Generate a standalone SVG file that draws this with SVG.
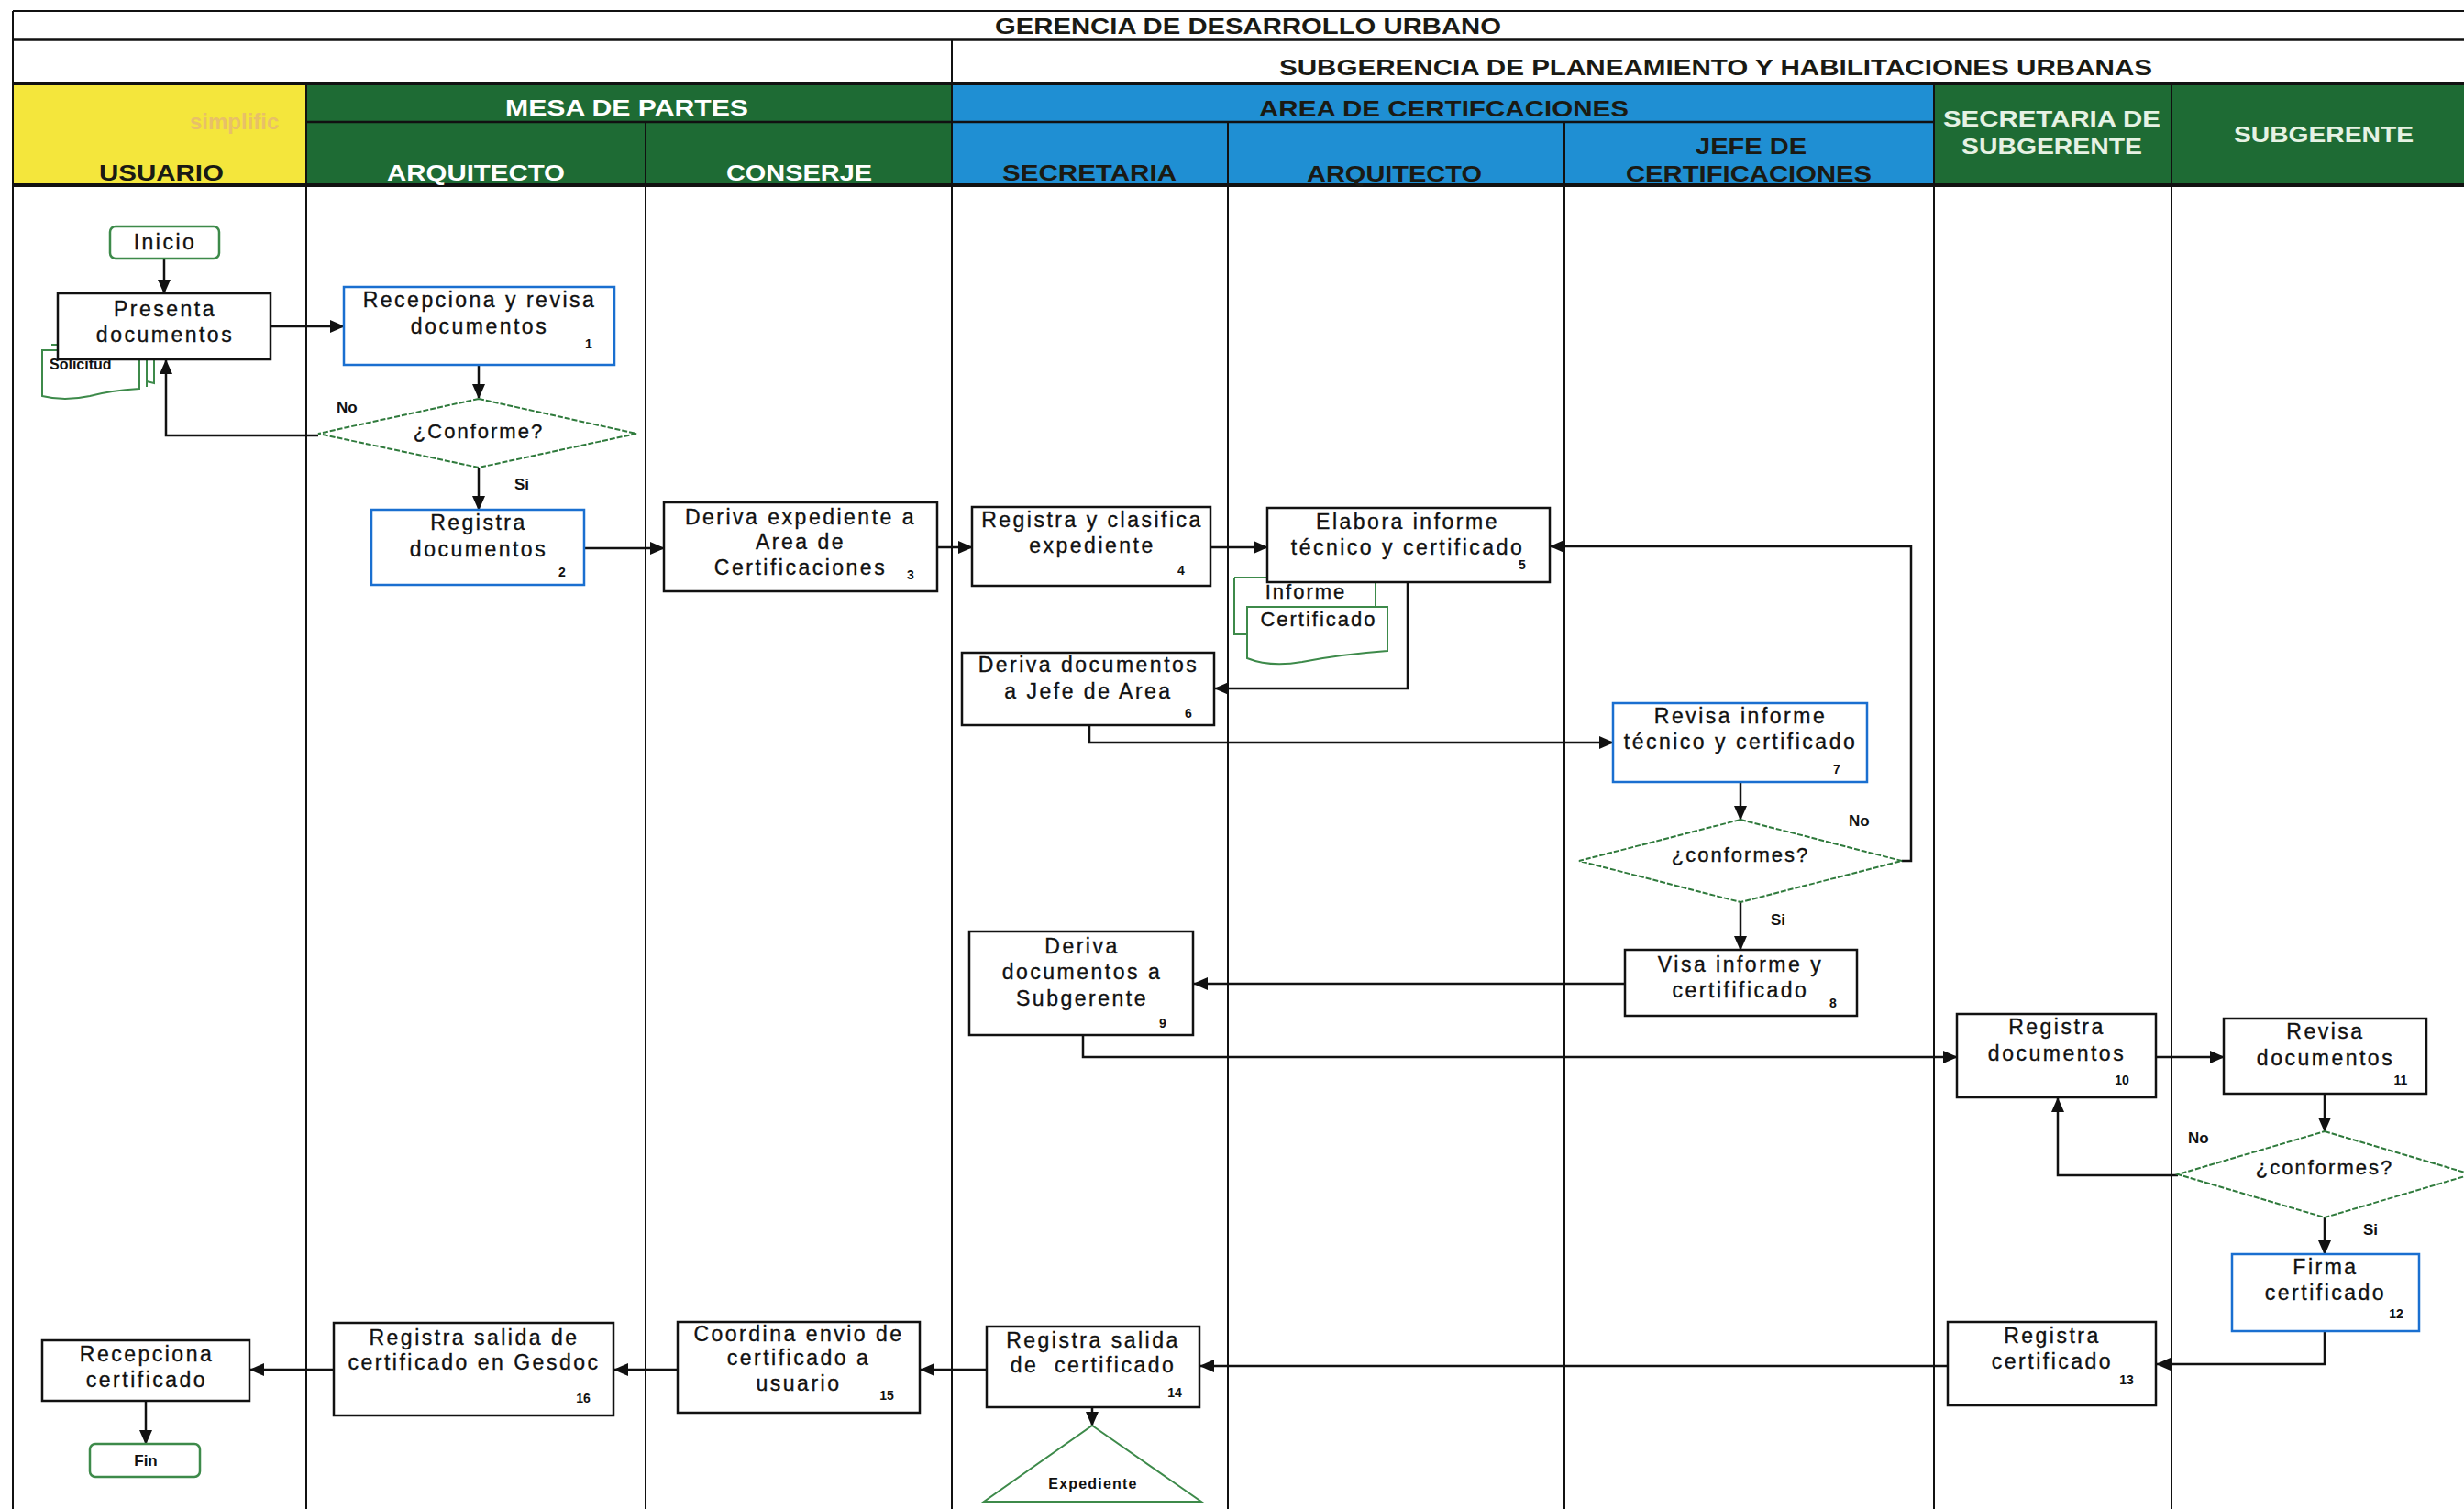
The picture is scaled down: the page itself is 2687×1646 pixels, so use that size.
<svg xmlns="http://www.w3.org/2000/svg" width="2687" height="1646" viewBox="0 0 2687 1646">
  <defs>
    <style>
      .t { font-family: "Liberation Sans", Arial, sans-serif; font-size: 23px; letter-spacing: 2.5px; fill: #111; stroke: #111; stroke-width: 0.35; text-anchor: middle; }
      .dt { font-family: "Liberation Sans", Arial, sans-serif; font-size: 22px; letter-spacing: 2px; fill: #111; stroke: #111; stroke-width: 0.35; text-anchor: middle; }
      .num { font-family: "Liberation Sans", Arial, sans-serif; font-size: 14px; font-weight: bold; fill: #111; text-anchor: middle; }
      .lbl { font-family: "Liberation Sans", Arial, sans-serif; font-size: 17px; font-weight: bold; fill: #111; }
      .hd { font-family: "Liberation Sans", Arial, sans-serif; font-size: 24px; font-weight: bold; }
      .dark { fill: #1a1a14; }
      .light { fill: #ffffff; }
      .pale { fill: #e6f2e4; }
      .box { fill: #fff; stroke: #111; stroke-width: 2.5; }
      .bbox { fill: #fff; stroke: #1a6fd0; stroke-width: 2.5; }
      .dia { fill: #fff; stroke: #2f7a3c; stroke-width: 2; stroke-dasharray: 6 2; }
      .term { fill: #fff; stroke: #3d8a4a; stroke-width: 2.5; }
      .doc { fill: #fff; stroke: #3d8a4a; stroke-width: 2; }
      .lane { stroke: #111; stroke-width: 2; fill: none; }
      .conn path { fill: none; stroke: #111; stroke-width: 2.5; marker-end: url(#arr); }
    </style>
    <marker id="arr" markerUnits="userSpaceOnUse" markerWidth="16" markerHeight="14" refX="15" refY="7" orient="auto">
      <path d="M0,0 L16,7 L0,14 z" fill="#111"/>
    </marker>
  </defs>

  <rect width="2687" height="1646" fill="#fff"/>

  <!-- header bands -->
  <g id="header">
    <rect x="14" y="91" width="320" height="111" fill="#f4e63c"/>
    <rect x="334" y="91" width="704" height="111" fill="#1e6b34"/>
    <rect x="1038" y="91" width="1071" height="111" fill="#1f8fd3"/>
    <rect x="2109" y="91" width="578" height="111" fill="#1e6b34"/>

    <line x1="14" y1="12" x2="2687" y2="12" stroke="#111" stroke-width="2"/>
    <line x1="14" y1="43" x2="2687" y2="43" stroke="#111" stroke-width="3.5"/>
    <line x1="1038" y1="43" x2="1038" y2="91" stroke="#111" stroke-width="2"/>
    <line x1="14" y1="91" x2="2687" y2="91" stroke="#111" stroke-width="4"/>
    <line x1="334" y1="133" x2="2109" y2="133" stroke="#111" stroke-width="2.5"/>
    <line x1="14" y1="202" x2="2687" y2="202" stroke="#111" stroke-width="4"/>
    <g class="lane">
      <line x1="334" y1="91" x2="334" y2="202"/>
      <line x1="704" y1="133" x2="704" y2="202"/>
      <line x1="1038" y1="91" x2="1038" y2="202"/>
      <line x1="1339" y1="133" x2="1339" y2="202"/>
      <line x1="1706" y1="133" x2="1706" y2="202"/>
      <line x1="2109" y1="91" x2="2109" y2="202"/>
      <line x1="2368" y1="91" x2="2368" y2="202"/>
    </g>

    <text class="hd dark" x="1085" y="37" textLength="552" lengthAdjust="spacingAndGlyphs">GERENCIA DE DESARROLLO URBANO</text>
    <text class="hd dark" x="1395" y="82" textLength="952" lengthAdjust="spacingAndGlyphs">SUBGERENCIA DE PLANEAMIENTO Y HABILITACIONES URBANAS</text>

    <text class="hd" x="207" y="141" font-size="20" fill="#e8c068" font-weight="normal">simplific</text>
    <text class="hd dark" x="108" y="197" textLength="136" lengthAdjust="spacingAndGlyphs">USUARIO</text>
    <text class="hd light" x="551" y="126" font-size="22" textLength="265" lengthAdjust="spacingAndGlyphs">MESA DE PARTES</text>
    <text class="hd light" x="422" y="197" font-size="22" textLength="194" lengthAdjust="spacingAndGlyphs">ARQUITECTO</text>
    <text class="hd light" x="792" y="197" font-size="22" textLength="159" lengthAdjust="spacingAndGlyphs">CONSERJE</text>
    <text class="hd dark" x="1373" y="127" textLength="403" lengthAdjust="spacingAndGlyphs">AREA DE CERTIFCACIONES</text>
    <text class="hd dark" x="1093" y="197" textLength="190" lengthAdjust="spacingAndGlyphs">SECRETARIA</text>
    <text class="hd dark" x="1425" y="198" textLength="191" lengthAdjust="spacingAndGlyphs">ARQUITECTO</text>
    <text class="hd dark" x="1849" y="168" textLength="121" lengthAdjust="spacingAndGlyphs">JEFE DE</text>
    <text class="hd dark" x="1773" y="198" textLength="268" lengthAdjust="spacingAndGlyphs">CERTIFICACIONES</text>
    <text class="hd pale" x="2119" y="138" font-size="22" textLength="237" lengthAdjust="spacingAndGlyphs">SECRETARIA DE</text>
    <text class="hd pale" x="2139" y="168" font-size="22" textLength="197" lengthAdjust="spacingAndGlyphs">SUBGERENTE</text>
    <text class="hd pale" x="2436" y="155" font-size="22" textLength="196" lengthAdjust="spacingAndGlyphs">SUBGERENTE</text>
  </g>

  <!-- swimlane separators -->
  <g id="lanes" class="lane">
    <line x1="14" y1="12" x2="14" y2="1646"/>
    <line x1="334" y1="202" x2="334" y2="1646"/>
    <line x1="704" y1="202" x2="704" y2="1646"/>
    <line x1="1038" y1="202" x2="1038" y2="1646"/>
    <line x1="1339" y1="202" x2="1339" y2="1646"/>
    <line x1="1706" y1="202" x2="1706" y2="1646"/>
    <line x1="2109" y1="202" x2="2109" y2="1646"/>
    <line x1="2368" y1="202" x2="2368" y2="1646"/>
  </g>

  <!-- documents attached to activities -->
  <g id="doc-solicitud">
    <path class="doc" d="M62,370 H168 V418 Q164,417 160,416 M56,376 H160 V422"/>
    <path class="doc" d="M46,382 H152 V424 Q120,426 98,432 Q70,438 46,432 Z"/>
    <line x1="160" y1="376" x2="160" y2="418" stroke="#3d8a4a" stroke-width="2"/>
    <line x1="168" y1="370" x2="168" y2="413" stroke="#3d8a4a" stroke-width="2"/>
    <text x="54" y="403" font-family="'Liberation Sans', Arial, sans-serif" font-size="16" font-weight="bold" fill="#111">Solicitud</text>
  </g>

  <g id="doc-informe">
    <path class="doc" d="M1346,630 V692 H1360 M1346,630 H1500 V662"/>
    <text class="dt" x="1424" y="653">Informe</text>
  </g>
  <g id="doc-certificado">
    <path class="doc" d="M1360,662 H1513 V710 Q1460,714 1420,722 Q1385,728 1360,718 Z"/>
    <text class="dt" x="1438" y="683">Certificado</text>
  </g>

  <!-- connectors -->
  <g id="connectors" class="conn">
    <path d="M179,282 V320"/>
    <path d="M295,356 H375"/>
    <path d="M522,398 V434"/>
    <path d="M347,475 H181 V393"/>
    <path d="M522,510 V556"/>
    <path d="M637,598 H724"/>
    <path d="M1022,597 H1060"/>
    <path d="M1320,597 H1382"/>
    <path d="M1535,635 V751 H1325"/>
    <path d="M1188,791 V810 H1759"/>
    <path d="M1898,853 V894"/>
    <path d="M2074,939 H2084 V596 H1691"/>
    <path d="M1898,984 V1036"/>
    <path d="M1772,1073 H1302"/>
    <path d="M1181,1129 V1153 H2134"/>
    <path d="M2351,1153 H2425"/>
    <path d="M2535,1193 V1234"/>
    <path d="M2375,1282 H2244 V1198"/>
    <path d="M2535,1328 V1368"/>
    <path d="M2535,1452 V1488 H2352"/>
    <path d="M2124,1490 H1309"/>
    <path d="M1191,1535 V1555"/>
    <path d="M1076,1494 H1004"/>
    <path d="M739,1494 H670"/>
    <path d="M364,1494 H273"/>
    <path d="M159,1528 V1575"/>
  </g>

  <!-- nodes -->
  <g id="n-inicio">
    <rect class="term" x="120" y="247" width="119" height="35" rx="6"/>
    <text class="t" x="180" y="272">Inicio</text>
  </g>

  <g id="n-presenta">
    <rect class="box" x="63" y="320" width="232" height="72"/>
    <text class="t" x="180" y="345">Presenta</text>
    <text class="t" x="180" y="373">documentos</text>
  </g>

  <g id="n-1">
    <rect class="bbox" x="375" y="313" width="295" height="85"/>
    <text class="t" x="523" y="335">Recepciona y revisa</text>
    <text class="t" x="523" y="364">documentos</text>
    <text class="num" x="642" y="380">1</text>
  </g>

  <g id="n-d1">
    <polygon class="dia" points="522,435 694,473 522,510 347,473"/>
    <text class="dt" x="522" y="478">¿Conforme?</text>
    <text class="lbl" x="367" y="450">No</text>
    <text class="lbl" x="561" y="534">Si</text>
  </g>

  <g id="n-2">
    <rect class="bbox" x="405" y="556" width="232" height="82"/>
    <text class="t" x="522" y="578">Registra</text>
    <text class="t" x="522" y="607">documentos</text>
    <text class="num" x="613" y="629">2</text>
  </g>

  <g id="n-3">
    <rect class="box" x="724" y="548" width="298" height="97"/>
    <text class="t" x="873" y="572">Deriva expediente a</text>
    <text class="t" x="873" y="599">Area de</text>
    <text class="t" x="873" y="627">Certificaciones</text>
    <text class="num" x="993" y="632">3</text>
  </g>

  <g id="n-4">
    <rect class="box" x="1060" y="553" width="260" height="86"/>
    <text class="t" x="1191" y="575">Registra y clasifica</text>
    <text class="t" x="1191" y="603">expediente</text>
    <text class="num" x="1288" y="627">4</text>
  </g>

  <g id="n-5">
    <rect class="box" x="1382" y="554" width="308" height="81"/>
    <text class="t" x="1535" y="577">Elabora informe</text>
    <text class="t" x="1535" y="605">técnico y certificado</text>
    <text class="num" x="1660" y="621">5</text>
  </g>

  <g id="n-6">
    <rect class="box" x="1049" y="712" width="275" height="79"/>
    <text class="t" x="1187" y="733">Deriva documentos</text>
    <text class="t" x="1187" y="762">a Jefe de Area</text>
    <text class="num" x="1296" y="783">6</text>
  </g>

  <g id="n-7">
    <rect class="bbox" x="1759" y="767" width="277" height="86"/>
    <text class="t" x="1898" y="789">Revisa informe</text>
    <text class="t" x="1898" y="817">técnico y certificado</text>
    <text class="num" x="2003" y="844">7</text>
  </g>

  <g id="n-d2">
    <polygon class="dia" points="1898,894 2074,939 1898,984 1722,939"/>
    <text class="dt" x="1898" y="940">¿conformes?</text>
    <text class="lbl" x="2016" y="901">No</text>
    <text class="lbl" x="1931" y="1009">Si</text>
  </g>

  <g id="n-8">
    <rect class="box" x="1772" y="1036" width="253" height="72"/>
    <text class="t" x="1898" y="1060">Visa informe y</text>
    <text class="t" x="1898" y="1088">certifificado</text>
    <text class="num" x="1999" y="1099">8</text>
  </g>

  <g id="n-9">
    <rect class="box" x="1057" y="1016" width="244" height="113"/>
    <text class="t" x="1180" y="1040">Deriva</text>
    <text class="t" x="1180" y="1068">documentos a</text>
    <text class="t" x="1180" y="1097">Subgerente</text>
    <text class="num" x="1268" y="1121">9</text>
  </g>

  <g id="n-10">
    <rect class="box" x="2134" y="1106" width="217" height="91"/>
    <text class="t" x="2243" y="1128">Registra</text>
    <text class="t" x="2243" y="1157">documentos</text>
    <text class="num" x="2314" y="1183">10</text>
  </g>

  <g id="n-11">
    <rect class="box" x="2425" y="1111" width="221" height="82"/>
    <text class="t" x="2536" y="1133">Revisa</text>
    <text class="t" x="2536" y="1162">documentos</text>
    <text class="num" x="2618" y="1183">11</text>
  </g>

  <g id="n-d3">
    <polygon class="dia" points="2535,1234 2695,1281 2535,1328 2375,1281"/>
    <text class="dt" x="2535" y="1281">¿conformes?</text>
    <text class="lbl" x="2386" y="1247">No</text>
    <text class="lbl" x="2577" y="1347">Si</text>
  </g>

  <g id="n-12">
    <rect class="bbox" x="2434" y="1368" width="204" height="84"/>
    <text class="t" x="2536" y="1390">Firma</text>
    <text class="t" x="2536" y="1418">certificado</text>
    <text class="num" x="2613" y="1438">12</text>
  </g>

  <g id="n-13">
    <rect class="box" x="2124" y="1442" width="227" height="91"/>
    <text class="t" x="2238" y="1465">Registra</text>
    <text class="t" x="2238" y="1493">certificado</text>
    <text class="num" x="2319" y="1510">13</text>
  </g>

  <g id="n-14">
    <rect class="box" x="1076" y="1447" width="232" height="88"/>
    <text class="t" x="1192" y="1470">Registra salida</text>
    <text class="t" x="1192" y="1497" xml:space="preserve">de  certificado</text>
    <text class="num" x="1281" y="1524">14</text>
  </g>

  <g id="n-expediente">
    <polygon class="doc" points="1191,1555 1310,1638 1073,1638"/>
    <text x="1192" y="1624" font-family="'Liberation Sans', Arial, sans-serif" font-size="16" font-weight="bold" letter-spacing="1.2" text-anchor="middle" fill="#111">Expediente</text>
  </g>

  <g id="n-15">
    <rect class="box" x="739" y="1442" width="264" height="99"/>
    <text class="t" x="871" y="1463">Coordina envio de</text>
    <text class="t" x="871" y="1489">certificado a</text>
    <text class="t" x="871" y="1517">usuario</text>
    <text class="num" x="967" y="1527">15</text>
  </g>

  <g id="n-16">
    <rect class="box" x="364" y="1443" width="305" height="101"/>
    <text class="t" x="517" y="1467">Registra salida de</text>
    <text class="t" x="517" y="1494">certificado en Gesdoc</text>
    <text class="num" x="636" y="1530">16</text>
  </g>

  <g id="n-17">
    <rect class="box" x="46" y="1462" width="226" height="66"/>
    <text class="t" x="160" y="1485">Recepciona</text>
    <text class="t" x="160" y="1513">certificado</text>
  </g>

  <g id="n-fin">
    <rect class="term" x="98" y="1575" width="120" height="36" rx="6"/>
    <text x="159" y="1599" font-family="'Liberation Sans', Arial, sans-serif" font-size="17" font-weight="bold" text-anchor="middle" fill="#111">Fin</text>
  </g>
</svg>
